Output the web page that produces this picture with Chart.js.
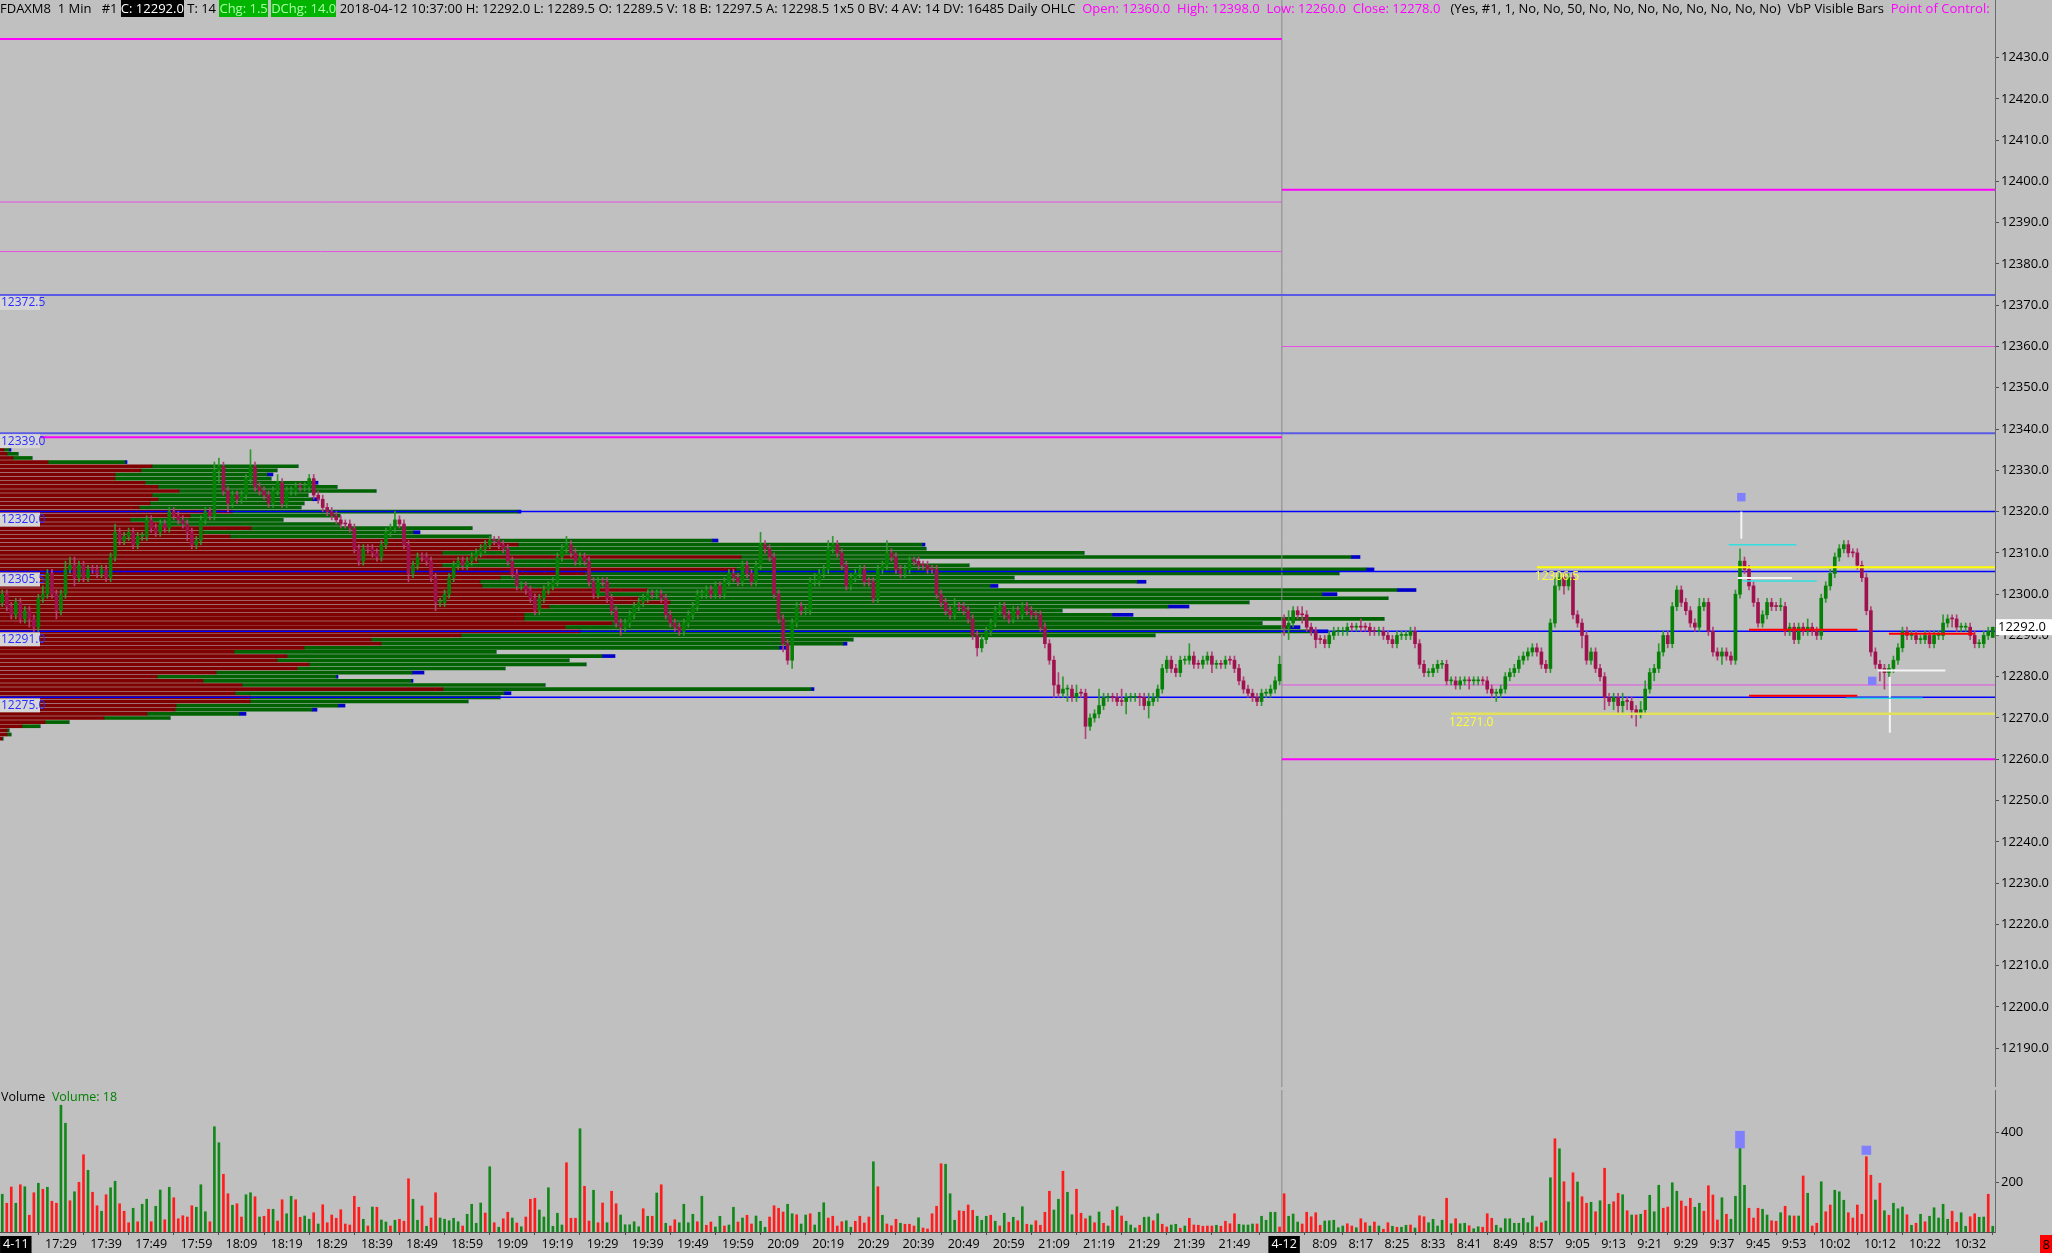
<!DOCTYPE html>
<html>
<head>
<meta charset="utf-8">
<script src="https://cdn.jsdelivr.net/npm/chart.js@4.4.1/dist/chart.umd.min.js"></script>
<style>
  html, body { margin: 0; padding: 0; background: #c0c0c0; width: 2052px; height: 1253px; overflow: hidden; }
  body { font-family: 'Open Sans', sans-serif; position: relative; }
  canvas { position: absolute; left: 0; }
  #head { position: absolute; left: 0; top: 0; font-size: 13px; line-height: 17px; white-space: pre; color: #000; z-index: 5; }
  #head .blk { background: #000; color: #fff; }
  #head .grn { background: #00b400; color: #a8ffa8; }
  #head .mag { color: #ff00ff; }
  #volTitle { position: absolute; left: 1px; top: 1088px; font-size: 12.5px; white-space: pre; z-index: 5; }
  #volTitle span { color: #008000; }
  #redBox { position: absolute; left: 2040px; top: 1235px; width: 12px; height: 18px; background: #ff0000; color: #000; font-size: 13px; text-align: center; line-height: 18px; z-index: 5; }
</style>
</head>
<body>
<div id="head">FDAXM8  1 Min   #1 <span class="blk">C: 12292.0</span> T: 14 <span class="grn">Chg: 1.5</span> <span class="grn">DChg: 14.0</span> 2018-04-12 10:37:00 H: 12292.0 L: 12289.5 O: 12289.5 V: 18 B: 12297.5 A: 12298.5 1x5 0 BV: 4 AV: 14 DV: 16485 Daily OHLC  <span class="mag">Open: 12360.0  High: 12398.0  Low: 12260.0  Close: 12278.0</span>   (Yes, #1, 1, No, No, 50, No, No, No, No, No, No, No, No)  VbP Visible Bars  <span class="mag">Point of Control:</span></div>
<canvas id="prof" width="2052" height="1087" style="top:0;z-index:1"></canvas>
<canvas id="price" width="2052" height="1087" style="top:0;z-index:2"></canvas>
<canvas id="vol" width="2052" height="166" style="top:1087px;z-index:2"></canvas>
<div id="volTitle">Volume  <span>Volume: 18</span></div>
<div id="redBox">8</div>
<script>
// 1-min bars: 17:16-21:59 on 4-11, then 8:00-10:37 on 4-12
const opens = [
12298,12300,12297,12295,12298,12294,12296,12294,12292,12299, 12300,12305,12300,12296,12300,12306,12307,12304,12307,12304,
12306,12306,12305,12306,12304,12309,12315,12313,12314,12315, 12312,12314,12314,12318,12316,12315,12317,12316,12320,12319,
12318,12317,12315,12312,12313,12318,12320,12319,12330,12331, 12325,12322,12324,12323,12324,12328,12331,12326,12325,12324,
12322,12325,12327,12322,12325,12325,12326,12326,12326,12328, 12324,12323,12321,12320,12319,12318,12317,12317,12316,12311,
12308,12311,12311,12310,12309,12312,12315,12316,12318,12317, 12312,12305,12307,12309,12309,12308,12304,12298,12298,12300,
12304,12307,12308,12307,12308,12309,12310,12311,12312,12313, 12313,12312,12311,12308,12305,12302,12302,12301,12299,12296,
12299,12301,12302,12303,12309,12311,12312,12310,12308,12309, 12308,12303,12300,12303,12303,12299,12296,12293,12292,12293,
12295,12297,12298,12299,12300,12300,12300,12299,12295,12293, 12292,12291,12293,12295,12297,12300,12300,12301,12300,12302,
12300,12303,12305,12304,12303,12307,12305,12303,12307,12312, 12311,12309,12300,12294,12288,12284,12293,12297,12296,12296,
12303,12303,12305,12306,12311,12312,12310,12307,12302,12304, 12305,12306,12303,12303,12299,12306,12307,12310,12309,12306,
12305,12306,12308,12308,12307,12307,12306,12306,12300,12298, 12296,12295,12297,12297,12296,12294,12290,12287,12289,12291,
12293,12296,12297,12295,12294,12296,12295,12297,12296,12295, 12295,12292,12288,12284,12278,12276,12277,12277,12275,12276,
12276,12268,12270,12271,12273,12275,12275,12275,12274,12274, 12275,12275,12275,12275,12273,12274,12275,12277,12282,12284,
12282,12281,12284,12284,12285,12283,12283,12284,12285,12283, 12283,12283,12284,12284,12282,12279,12277,12276,12275,12274,
12276,12276,12277,12279,
12294,12292,12293,12296,12295,12295,12292,12291,12289,12289, 12288,12290,12291,12291,12291,12292,12292,12292,12292,12292,
12291,12291,12291,12290,12289,12288,12290,12290,12290,12291, 12288,12283,12281,12281,12282,12283,12283,12279,12279,12278,
12279,12279,12279,12279,12279,12279,12277,12276,12276,12277, 12280,12281,12282,12284,12285,12286,12287,12286,12283,12282,
12293,12302,12304,12302,12304,12295,12293,12290,12284,12286, 12282,12280,12275,12274,12275,12273,12274,12274,12272,12271,
12272,12277,12281,12282,12286,12290,12288,12297,12301,12298, 12296,12293,12292,12297,12298,12291,12286,12285,12286,12285,
12284,12300,12308,12306,12302,12298,12293,12295,12298,12297, 12297,12297,12291,12292,12289,12292,12291,12292,12291,12290,
12299,12302,12305,12309,12311,12312,12310,12310,12307,12304, 12296,12286,12283,12282,12281,12282,12284,12287,12291,12290,
12290,12289,12289,12290,12288,12290,12290,12293,12294,12294, 12292,12292,12292,12290,12288,12288,12290,12289.5
];
const highs = [
12301,12301,12298,12299,12299,12297,12297,12295,12300,12302, 12306,12306,12301,12301,12308,12309,12309,12308,12308,12307,
12307,12307,12307,12307,12310,12317,12316,12315,12316,12316, 12315,12315,12319,12319,12317,12318,12318,12321,12321,12320,
12319,12318,12316,12314,12319,12321,12321,12332,12333,12332, 12326,12325,12325,12325,12329,12335,12332,12327,12326,12325,
12326,12329,12328,12326,12326,12327,12327,12327,12329,12329, 12325,12324,12322,12321,12320,12319,12318,12318,12317,12312,
12312,12312,12312,12311,12313,12316,12317,12320,12319,12318, 12313,12308,12310,12310,12310,12309,12305,12299,12301,12305,
12308,12309,12309,12309,12310,12311,12312,12313,12314,12314, 12314,12313,12312,12309,12306,12303,12303,12302,12300,12300,
12302,12303,12304,12310,12312,12314,12313,12311,12310,12310, 12309,12304,12304,12304,12304,12300,12297,12294,12294,12296,
12298,12299,12300,12301,12301,12301,12301,12300,12296,12294, 12293,12294,12296,12298,12301,12301,12302,12302,12303,12303,
12304,12306,12306,12305,12308,12308,12306,12308,12315,12313, 12312,12310,12301,12295,12289,12294,12298,12298,12297,12304,
12305,12306,12307,12313,12314,12313,12311,12308,12305,12306, 12307,12307,12304,12304,12307,12308,12313,12311,12310,12307,
12307,12309,12309,12309,12308,12308,12307,12307,12301,12299, 12297,12299,12298,12298,12297,12295,12291,12290,12292,12294,
12297,12298,12298,12296,12297,12297,12298,12298,12297,12296, 12296,12293,12289,12285,12281,12280,12278,12278,12278,12277,
12277,12271,12272,12277,12276,12276,12276,12276,12277,12276, 12276,12276,12276,12276,12276,12276,12278,12283,12285,12285,
12283,12285,12285,12288,12286,12284,12285,12286,12286,12284, 12284,12285,12285,12285,12283,12280,12278,12277,12276,12277,
12277,12278,12280,12285,
12295,12296,12297,12297,12297,12296,12293,12292,12290,12290, 12291,12292,12292,12292,12293,12293,12293,12294,12293,12293,
12292,12292,12292,12291,12290,12291,12291,12291,12292,12292, 12289,12284,12282,12283,12284,12284,12284,12280,12280,12280,
12280,12280,12280,12280,12280,12280,12278,12277,12278,12281, 12282,12283,12285,12286,12287,12288,12288,12287,12284,12294,
12304,12305,12305,12305,12305,12296,12294,12291,12287,12287, 12283,12281,12276,12276,12276,12276,12275,12275,12273,12274,
12279,12282,12283,12288,12291,12291,12298,12302,12302,12299, 12297,12294,12299,12299,12299,12292,12287,12287,12287,12286,
12301,12311,12309,12307,12303,12299,12296,12299,12299,12298, 12299,12298,12293,12293,12293,12293,12294,12293,12292,12300,
12303,12306,12310,12312,12313,12313,12311,12311,12308,12305, 12297,12287,12284,12283,12283,12285,12288,12292,12292,12291,
12291,12290,12291,12291,12291,12291,12295,12295,12295,12295, 12293,12293,12293,12291,12289,12291,12292,12292
];
const lows = [
12297,12296,12294,12294,12293,12293,12292,12291,12291,12298, 12299,12299,12294,12295,12299,12305,12302,12303,12303,12303,
12305,12304,12304,12303,12303,12308,12312,12312,12313,12311, 12311,12313,12313,12315,12314,12314,12315,12315,12318,12317,
12316,12313,12311,12311,12312,12317,12318,12318,12327,12324, 12320,12321,12322,12322,12323,12327,12325,12324,12323,12321,
12321,12324,12321,12321,12324,12324,12325,12325,12325,12323, 12322,12320,12319,12318,12317,12316,12316,12315,12310,12307,
12307,12310,12309,12308,12308,12311,12314,12315,12316,12311, 12303,12304,12306,12308,12307,12303,12296,12297,12297,12299,
12303,12306,12306,12306,12307,12308,12309,12310,12311,12312, 12311,12310,12307,12304,12301,12301,12300,12298,12295,12295,
12298,12300,12301,12302,12308,12310,12309,12307,12307,12307, 12302,12299,12299,12302,12298,12295,12292,12290,12291,12292,
12294,12296,12297,12298,12299,12299,12298,12294,12292,12291, 12290,12290,12292,12294,12296,12299,12299,12299,12299,12299,
12299,12302,12303,12302,12302,12304,12302,12302,12306,12310, 12308,12299,12293,12286,12283,12282,12292,12295,12295,12295,
12302,12302,12304,12305,12310,12309,12306,12301,12301,12303, 12304,12302,12302,12298,12298,12305,12306,12308,12305,12304,
12304,12305,12307,12306,12306,12305,12305,12299,12297,12295, 12294,12294,12296,12295,12293,12289,12285,12286,12288,12290,
12292,12295,12294,12293,12293,12294,12294,12295,12294,12294, 12291,12287,12283,12275,12275,12275,12274,12274,12274,12275,
12265,12267,12269,12270,12272,12274,12274,12273,12273,12271, 12274,12274,12273,12272,12270,12273,12274,12276,12281,12281,
12280,12280,12283,12283,12282,12282,12282,12283,12281,12282, 12282,12282,12283,12281,12278,12276,12275,12274,12273,12273,
12275,12275,12276,12278,
12290,12289,12292,12294,12293,12291,12290,12287,12288,12287, 12287,12289,12290,12290,12290,12291,12291,12291,12291,12290,
12290,12290,12289,12288,12287,12287,12289,12289,12289,12287, 12282,12280,12280,12280,12281,12282,12278,12278,12277,12277,
12278,12277,12278,12278,12278,12276,12275,12274,12275,12276, 12279,12280,12281,12283,12284,12285,12285,12282,12281,12281,
12292,12301,12300,12301,12294,12292,12287,12283,12283,12281, 12279,12272,12273,12272,12271,12271,12272,12270,12268,12270,
12271,12276,12279,12281,12285,12287,12287,12296,12297,12295, 12292,12291,12291,12296,12290,12285,12284,12283,12284,12283,
12283,12299,12305,12301,12297,12292,12292,12294,12296,12296, 12296,12290,12290,12288,12288,12290,12290,12290,12289,12289,
12298,12301,12304,12308,12310,12309,12309,12306,12303,12295, 12285,12282,12279,12277,12280,12281,12283,12286,12289,12289,
12288,12288,12288,12287,12287,12289,12289,12292,12292,12291, 12291,12291,12289,12287,12287,12287,12289,12289.5
];
const closes = [
12300,12297,12295,12298,12294,12296,12294,12292,12299,12300, 12305,12300,12296,12300,12306,12307,12304,12307,12304,12306,
12306,12305,12306,12304,12309,12315,12313,12314,12315,12312, 12314,12314,12318,12316,12315,12317,12316,12320,12319,12318,
12317,12315,12312,12313,12318,12320,12319,12330,12331,12325, 12322,12324,12323,12324,12328,12331,12326,12325,12324,12322,
12325,12327,12322,12325,12325,12326,12326,12326,12328,12324, 12323,12321,12320,12319,12318,12317,12317,12316,12311,12308,
12311,12311,12310,12309,12312,12315,12316,12318,12317,12312, 12305,12307,12309,12309,12308,12304,12298,12298,12300,12304,
12307,12308,12307,12308,12309,12310,12311,12312,12313,12313, 12312,12311,12308,12305,12302,12302,12301,12299,12296,12299,
12301,12302,12303,12309,12311,12312,12310,12308,12309,12308, 12303,12300,12303,12303,12299,12296,12293,12292,12293,12295,
12297,12298,12299,12300,12300,12300,12299,12295,12293,12292, 12291,12293,12295,12297,12300,12300,12301,12300,12302,12300,
12303,12305,12304,12303,12307,12305,12303,12307,12312,12311, 12309,12300,12294,12288,12284,12293,12297,12296,12296,12303,
12303,12305,12306,12311,12312,12310,12307,12302,12304,12305, 12306,12303,12303,12299,12306,12307,12310,12309,12306,12305,
12306,12308,12308,12307,12307,12306,12306,12300,12298,12296, 12295,12297,12297,12296,12294,12290,12287,12289,12291,12293,
12296,12297,12295,12294,12296,12295,12297,12296,12295,12295, 12292,12288,12284,12278,12276,12277,12277,12275,12276,12276,
12268,12270,12271,12273,12275,12275,12275,12274,12274,12275, 12275,12275,12275,12273,12274,12275,12277,12282,12284,12282,
12281,12284,12284,12285,12283,12283,12284,12285,12283,12283, 12283,12284,12284,12282,12279,12277,12276,12275,12274,12276,
12276,12277,12279,12283,
12292,12293,12296,12295,12295,12292,12291,12289,12289,12288, 12290,12291,12291,12291,12292,12292,12292,12292,12292,12291,
12291,12291,12290,12289,12288,12290,12290,12290,12291,12288, 12283,12281,12281,12282,12283,12283,12279,12279,12278,12279,
12279,12279,12279,12279,12279,12277,12276,12276,12277,12280, 12281,12282,12284,12285,12286,12287,12286,12283,12282,12293,
12302,12304,12302,12304,12295,12293,12290,12284,12286,12282, 12280,12275,12274,12275,12273,12274,12274,12272,12271,12272,
12277,12281,12282,12286,12290,12288,12297,12301,12298,12296, 12293,12292,12297,12298,12291,12286,12285,12286,12285,12284,
12300,12308,12306,12302,12298,12293,12295,12298,12297,12297, 12297,12291,12292,12289,12292,12291,12292,12291,12290,12299,
12302,12305,12309,12311,12312,12310,12310,12307,12304,12296, 12286,12283,12282,12281,12282,12284,12287,12291,12290,12290,
12289,12289,12290,12288,12290,12290,12293,12294,12294,12292, 12292,12292,12290,12288,12288,12290,12291,12292
];
const volumes = [
151,115,180,115,189,181,67,157,195,171, 179,123,115,507,435,125,161,199,309,247, 159,105,83,149,177,203,113,83,37,95,
41,111,131,41,103,168,49,179,137,53, 65,60,105,99,189,81,41,421,357,231, 153,107,113,60,149,157,141,60,63,91,
91,44,129,73,143,129,59,64,51,77, 32,109,37,68,55,89,32,28,143,99, 51,24,100,99,48,40,24,47,51,43,
213,131,47,104,23,56,157,56,51,45, 55,41,24,71,111,35,116,76,261,37, 19,53,79,56,36,21,60,131,135,88,
60,177,23,75,28,277,55,55,413,183, 44,167,37,116,37,163,113,68,29,29, 41,21,93,63,63,156,189,35,24,49,
37,111,37,71,41,143,
27,40,20,63,24,28,99,40,56,67,32,64,43,19,
60,105,95,80,111,73,69,32,68,73, 28,79,117,56,63,24,41,45,19,43, 63,36,60,281,181,67,32,25,51,35,
31,31,24,57,16,12,73,103,273,271, 153,47,85,83,108,87,63,47,63,67, 43,24,75,39,59,45,101,31,28,45,
27,79,163,88,131,243,159,69,171,75, 53,64,37,80,35,24,87,101,64,43, 28,16,27,59,60,45,73,31,20,28,
31,15,24,55,28,27,23,24,24,27, 23,43,33,73,31,28,28,32,32,63, 47,79,79,20,
153,63,72,40,32,79,61,77,27,44,45,47,17,24,33,24,17,53,37,24,40,24,
11,37,23,19,19,27,28,16,65,61, 37,51,24,47,135,33,53,33,35,25, 13,21,19,73,55,27,16,53,53,35,
35,55,37,64,20,37,44,217,373,333, 201,120,237,200,141,115,119,81,125,255, 111,121,155,149,85,68,68,71,87,147,
81,187,95,100,197,163,124,103,135,99, 115,83,185,148,48,137,71,51,143,339, 187,95,56,95,91,68,45,43,77,103,
65,64,64,224,155,24,35,201,81,108, 167,161,127,77,56,108,71,301,227,128, 195,85,67,115,93,100,69,27,35,71,
41,63,97,56,111,51,83,39,77,23, 61,73,59,60,151,23
];
// g = up volume, r = down volume
const volumeSide = (
  'grrgrgrrgr' + 'grrggrgrrg' + 'rrgrggrrrg' + 'rggrggrgrr' + 'rrrgggrggr' + 'rgrrggrgrr' + 'grrggrrggr' + 'grrrrrrrrr' +
  'grgrggrgrr' + 'rggrgrrggg' + 'ggrggggrgr' + 'grrgrgrrrg' + 'gggggrrrgr' + 'rgrrgrrggg' + 'ggrgrgrgrr' + 'ggggrg' +
  'rrggrggrgrrggg' +
  'rrrrggrggr' + 'gggrrrrggr' + 'rrrgrgrrrg' + 'rrrgrrrrrg' + 'ggrrrrgggr' + 'grgrgrgrgr' + 'rrrggrggrr' + 'rgrgrgrgrg' +
  'ggrggrgrrg' + 'grgrrrrrrg' + 'rrrrggggrg' + 'gggr' +
  'rgggrrrrrgggggrrgrrgrg' +
  'rrgrggrgrr' + 'ggggrgrggr' + 'ggrrrggggg' + 'ggggrrggrg' + 'rgrgrrgrgr' + 'grrgrgrgrg' + 'ggrrggrrrg' +
  'grrrrgrggg' + 'grrrggrrgr' + 'grgrgrrgrr' + 'gggrrrrrrg' + 'rgrgggrgrg' + 'rgggggrrgg' + 'rrggrg'
).split('');

const sessionBreak = 283.5;
const tickBars = [3,13,23,33,43,53,63,73,83,93,103,113,123,133,143,153,163,173,183,193,203,213,223,233,243,253,263,273,
  284,293,301,309,317,325,333,341,349,357,365,373,381,389,397,406,416,426,436];
const tickLabels = ['4-11','17:29','17:39','17:49','17:59','18:09','18:19','18:29','18:39','18:49','18:59','19:09','19:19','19:29',
  '19:39','19:49','19:59','20:09','20:19','20:29','20:39','20:49','20:59','21:09','21:19','21:29','21:39','21:49',
  '4-12','8:09','8:17','8:25','8:33','8:41','8:49','8:57','9:05','9:13','9:21','9:29','9:37','9:45','9:53','10:02','10:12','10:22','10:32'];
const priceTicks = [12190,12200,12210,12220,12230,12240,12250,12260,12270,12280,12290,12300,12310,12320,12330,
  12340,12350,12360,12370,12380,12390,12400,12410,12420,12430];
const volumeTicks = [200, 400];

// volume at price (visible bars): price, sell part, total, unfilled tip
const profilePrices = [12335,12334,12333,12332,12331,12330,12329,12328,12327,12326,12325,12324,12323,12322,12321,12320,
  12319,12318,12317,12316,12315,12314,12313,12312,12311,12310,12309,12308,12307,12306,12305,12304,12303,12302,12301,12300,
  12299,12298,12297,12296,12295,12294,12293,12292,12291,12290,12289,12288,12287,12286,12285,12284,12283,12282,12281,12280,
  12279,12278,12277,12276,12275,12274,12273,12272,12271,12270,12269,12268,12267,12266,12265];
const profileSell = [4,7,13,48,152,141,115,115,145,158,179,152,158,150,139,232,
  190,130,160,251,203,230,491,518,504,442,741,478,442,736,585,500,480,482,647,598,
  638,670,549,540,524,524,612,565,580,461,371,381,304,234,287,277,309,297,216,157,
  203,242,443,235,250,250,176,175,147,104,45,22,7,7,2];
const profileTotal = [9,18,32,125,298,277,267,271,313,337,376,308,312,304,301,518,
  340,283,340,472,413,491,712,922,926,1084,1351,916,969,1366,1339,1014,1137,990,1397,1322,
  1388,1249,1168,1062,1112,1384,1262,1290,1312,1155,853,843,779,496,602,569,586,505,412,336,
  411,545,811,504,500,468,338,312,239,170,69,40,9,11,3];
const profileTip = [2,0,0,2,0,0,6,0,5,0,0,0,7,0,0,3,
  0,0,0,0,7,0,6,3,0,0,9,0,0,8,0,0,9,8,19,15,
  0,0,21,0,21,0,0,10,16,0,0,4,7,0,13,0,0,0,12,2,
  2,0,3,7,0,0,7,5,7,0,0,0,0,0,0];

// horizontal levels: price, from bar, to bar, kind
const levelLines = [
  [12434.5, -0.5, 283.5, 'magentaThick'], [12395, -0.5, 283.5, 'magentaThin'], [12383, -0.5, 283.5, 'magentaThin'],
  [12338, -0.5, 283.5, 'magentaThick'],
  [12398, 283.5, 441.5, 'magentaThick'], [12360, 283.5, 441.5, 'magentaThin'], [12278, 283.5, 441.5, 'magentaThin'],
  [12260, 283.5, 441.5, 'magentaThick'],
  [12372.5, -0.5, 441.5, 'slate'], [12339, -0.5, 441.5, 'slate'],
  [12320, -0.5, 441.5, 'blue'], [12305.5, -0.5, 441.5, 'blue'], [12291, -0.5, 441.5, 'blue'], [12275, -0.5, 441.5, 'blue'],
  [12306.5, 340, 441.5, 'yellow'], [12271, 321, 441.5, 'yellowDull'],
  [12291.4, 387, 411, 'red'], [12275.4, 387, 411, 'red'], [12290.4, 418, 437, 'red'],
  [12312, 382.5, 397.5, 'cyan'], [12303.2, 385.6, 402, 'cyan'], [12274.8, 408.5, 425.5, 'cyan'],
  [12303.9, 384.5, 396.5, 'white'], [12281.5, 415.5, 430.5, 'white']
];
// vertical marks: bar, from price, to price
const tickMarks = [[385.3, 12320, 12313.4], [418.2, 12280, 12266.4]];
const bigTrades = [[385.3, 12323.5], [414.3, 12279]];
const bigTradeVolumes = [[385, 336, 403], [413, 310, 344]];
const sideLabels = [12372.5, 12339, 12320, 12305.5, 12291, 12275];
const yellowLabels = [[12306.5, 340], [12271, 321]];
const lastPrice = 12292.0;

const lineStyles = {
  magentaThick: ['#ff00ff', 2], magentaThin: ['#e650e6', 1], slate: ['#5a5ae6', 2], blue: ['#0000ff', 1.5],
  yellow: ['#ffff00', 2], yellowDull: ['#e2e25a', 2.5], red: ['#ff0000', 2], cyan: ['#30e0e0', 1.5], white: ['#f4f4f4', 2]
};

const N = closes.length;
const PMIN = 12180.6, PMAX = 12443.95;
Chart.defaults.font.family = "'Open Sans', sans-serif";
Chart.defaults.color = '#000';

// keep the plot area flush with the canvas edges
const noPad = s => { s.paddingTop = 0; s.paddingBottom = 0; s.paddingLeft = 0; s.paddingRight = 0; };

const isUp = i => closes[i] > opens[i] || (closes[i] === opens[i] && volumeSide[i] === 'g');
const idx = closes.map((_, i) => i);

const priceDatasets = [];
priceDatasets.push({
  type: 'line', data: [{x: sessionBreak, y: PMIN}, {x: sessionBreak, y: PMAX}],
  borderColor: '#8a8a8a', borderWidth: 1, pointRadius: 0, order: 20
});
levelLines.forEach(([p, a, b, kind]) => {
  const [c, w] = lineStyles[kind];
  const top = ['yellow', 'yellowDull', 'red', 'cyan', 'white'].includes(kind);
  priceDatasets.push({
    type: 'line', data: [{x: a, y: p}, {x: b, y: p}], borderColor: c, borderWidth: w,
    pointRadius: 0, order: top ? 3 : 12
  });
});
tickMarks.forEach(([x, a, b]) => {
  priceDatasets.push({
    type: 'line', data: [{x, y: a}, {x, y: b}], borderColor: '#f4f4f4', borderWidth: 2, pointRadius: 0, order: 3
  });
});
priceDatasets.push({
  type: 'bar', data: idx.map(i => ({x: i, y: [lows[i], highs[i]]})),
  backgroundColor: idx.map(i => isUp(i) ? '#2f962f' : '#b34078'),
  barThickness: 1, grouped: false, borderWidth: 0, order: 6
});
priceDatasets.push({
  type: 'bar', data: idx.map(i => ({x: i, y: [opens[i], closes[i]]})),
  backgroundColor: idx.map(i => isUp(i) ? '#058205' : '#a0124e'),
  barThickness: 3, minBarLength: 1, grouped: false, borderWidth: 0, order: 5
});
priceDatasets.push({
  type: 'scatter', data: bigTrades.map(([x, y]) => ({x, y})), pointStyle: 'rect',
  pointRadius: 6, backgroundColor: '#8080ff', borderWidth: 0, order: 1
});

const labelPlugin = {
  id: 'levelLabels',
  afterDatasetsDraw(chart) {
    const {ctx, scales: {x, y}} = chart;
    ctx.save();
    ctx.font = "12px 'Open Sans', sans-serif";
    ctx.textBaseline = 'top';
    sideLabels.forEach(p => {
      const py = y.getPixelForValue(p);
      ctx.fillStyle = '#d6d6d6';
      ctx.fillRect(0, py + 1, 40, 14);
      ctx.fillStyle = '#2b2bff';
      ctx.fillText(p.toFixed(1), 1, py + 2);
    });
    yellowLabels.forEach(([p, bar]) => {
      ctx.fillStyle = '#ffff30';
      ctx.fillText(p.toFixed(1), x.getPixelForValue(bar) - 2, y.getPixelForValue(p) + 3);
    });
    const ly = y.getPixelForValue(lastPrice);
    ctx.fillStyle = '#ffffff';
    ctx.fillRect(x.right + 1, ly - 8, 2052 - x.right - 1, 16);
    ctx.fillStyle = '#000';
    ctx.font = "13px 'Open Sans', sans-serif";
    ctx.textBaseline = 'middle';
    ctx.fillText(lastPrice.toFixed(1), x.right + 3, ly);
    ctx.restore();
  }
};

new Chart(document.getElementById('price'), {
  type: 'bar',
  data: {datasets: priceDatasets},
  options: {
    responsive: false, animation: false, events: [],
    layout: {padding: 0, autoPadding: false},
    plugins: {legend: {display: false}, tooltip: {enabled: false}},
    scales: {
      x: {type: 'linear', min: -0.5, max: N - 0.5, offset: false, display: false},
      y: {
        type: 'linear', position: 'right', min: PMIN, max: PMAX,
        afterFit: s => { s.width = 57; noPad(s); },
        afterBuildTicks: s => { s.ticks = priceTicks.map(v => ({value: v})); },
        ticks: {callback: v => v.toFixed(1), font: {size: 13}, padding: 2, color: '#000'},
        grid: {drawOnChartArea: false, tickLength: 4, color: '#505050'},
        border: {color: '#6a6a6a'}
      }
    }
  },
  plugins: [labelPlugin]
});

new Chart(document.getElementById('prof'), {
  type: 'bar',
  data: {
    datasets: [
      {data: profilePrices.map((p, i) => ({y: p, x: [0, profileSell[i]]})), backgroundColor: '#7e0000'},
      {data: profilePrices.map((p, i) => ({y: p, x: [profileSell[i], profileTotal[i]]})), backgroundColor: '#006200'},
      {data: profilePrices.map((p, i) => ({y: p, x: [profileTotal[i], profileTotal[i] + profileTip[i]]})), backgroundColor: '#0000c8'}
    ]
  },
  options: {
    indexAxis: 'y', responsive: false, animation: false, events: [],
    layout: {padding: {right: 57}, autoPadding: false},
    datasets: {bar: {barThickness: 3, grouped: false, borderWidth: 0}},
    plugins: {legend: {display: false}, tooltip: {enabled: false}},
    scales: {
      x: {type: 'linear', min: 0, max: 1995, display: false},
      y: {type: 'linear', min: PMIN, max: PMAX, display: false, offset: false}
    }
  }
});

const VMAX = 568;
new Chart(document.getElementById('vol'), {
  type: 'bar',
  data: {
    datasets: [
      {
        data: idx.map(i => ({x: i, y: volumes[i]})),
        backgroundColor: idx.map(i => volumeSide[i] === 'g' ? '#12881a' : '#ff1c1c'),
        barThickness: 2, grouped: false, borderWidth: 0, order: 2
      },
      {
        data: bigTradeVolumes.map(([x, a, b]) => ({x, y: [a, b]})),
        backgroundColor: '#8080ff', barThickness: 9, grouped: false, borderWidth: 0, order: 1
      },
      {
        type: 'line', data: [{x: sessionBreak, y: 0}, {x: sessionBreak, y: VMAX}],
        borderColor: '#8a8a8a', borderWidth: 1, pointRadius: 0, order: 3
      }
    ]
  },
  options: {
    responsive: false, animation: false, events: [],
    layout: {padding: {top: 3}, autoPadding: false},
    plugins: {legend: {display: false}, tooltip: {enabled: false}},
    scales: {
      x: {
        type: 'linear', min: -0.5, max: N - 0.5, offset: false,
        afterFit: s => { s.height = 21; noPad(s); },
        afterBuildTicks: s => { s.ticks = tickBars.map(v => ({value: v})); },
        ticks: {
          autoSkip: false, maxRotation: 0, padding: 2, font: {size: 12.5},
          callback: (v, i) => tickLabels[i],
          color: c => tickLabels[c.index] && tickLabels[c.index].includes('-') ? '#fff' : '#000',
          showLabelBackdrop: true,
          backdropColor: c => tickLabels[c.index] && tickLabels[c.index].includes('-') ? '#000' : 'rgba(0,0,0,0)',
          backdropPadding: {left: 3, right: 3, top: 1, bottom: 2}
        },
        grid: {drawOnChartArea: false, tickLength: 3, color: '#505050'},
        border: {color: '#505050'}
      },
      y: {
        type: 'linear', position: 'right', min: 0, max: VMAX,
        afterFit: s => { s.width = 57; noPad(s); },
        afterBuildTicks: s => { s.ticks = volumeTicks.map(v => ({value: v})); },
        ticks: {font: {size: 13}, padding: 2, color: '#000'},
        grid: {drawOnChartArea: false, tickLength: 4, color: '#505050'},
        border: {color: '#6a6a6a'}
      }
    }
  }
});
</script>
</body>
</html>
